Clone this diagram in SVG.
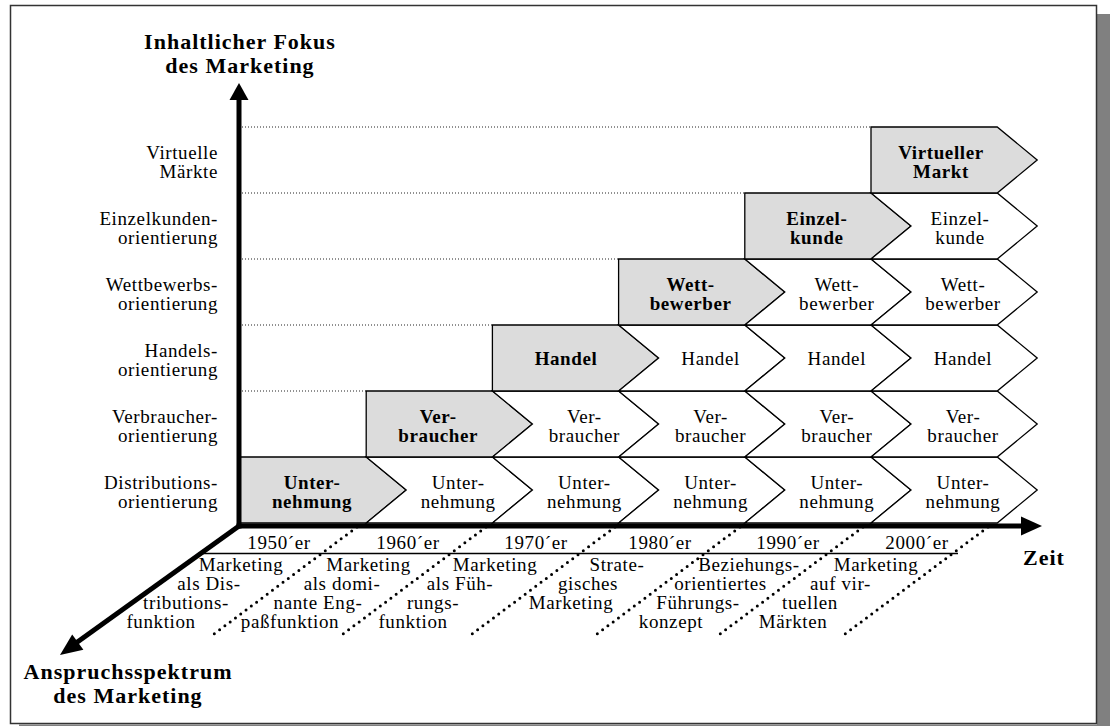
<svg xmlns="http://www.w3.org/2000/svg" xmlns:xlink="http://www.w3.org/1999/xlink" width="1110" height="726" viewBox="0 0 1110 726">
  <style>
    .t { font-family: "Liberation Serif", "Times New Roman", serif; font-size: 19px; letter-spacing: 0.6px; fill: #000; }
    .b { font-weight: bold; }
    .c { text-anchor: middle; }
    .e { text-anchor: end; }
    .h { font-family: "Liberation Serif", "Times New Roman", serif; font-size: 22px; font-weight: bold; letter-spacing: 1px; text-anchor: middle; fill: #000; }
    .grid { stroke: #222; stroke-width: 1; stroke-dasharray: 1 2; fill: none; }
    .dots { stroke: #000; stroke-width: 3; stroke-dasharray: 0 6.6; stroke-linecap: round; fill: none; }
    .axis { stroke: #000; stroke-width: 5; fill: none; }
    .ch { stroke: #000; stroke-width: 1.3; stroke-linejoin: miter; }
  </style>
  <defs>
    <!-- first (highlighted) arrow of a row: flat left side -->
    <path id="gch" class="ch" fill="#dcdcdc" d="M0,0 H126.2 L166.2,33 L126.2,66 H0 Z"/>
    <!-- following arrows: notched left side -->
    <path id="wch" class="ch" fill="#fff" d="M0,0 H126.2 L166.2,33 L126.2,66 H0 L40,33 Z"/>
  </defs>

  <!-- frame with drop shadow -->
  <rect x="1097" y="14" width="13" height="712" fill="#808080"/>
  <rect x="19" y="724.5" width="1091" height="2" fill="#808080"/>
  <rect x="10.5" y="5.5" width="1086" height="718" fill="#fff" stroke="#333" stroke-width="1.5"/>

  <!-- axis titles -->
  <text class="h" x="240" y="49">Inhaltlicher Fokus</text>
  <text class="h" x="240" y="73">des Marketing</text>
  <text class="h" x="128" y="679">Anspruchsspektrum</text>
  <text class="h" x="128" y="703">des Marketing</text>
  <text class="h" x="1044" y="565">Zeit</text>

  <!-- dotted row guides -->
  <g id="guides">
    <line class="grid" x1="242" y1="127" x2="871" y2="127"/>
    <line class="grid" x1="242" y1="193" x2="744.8" y2="193"/>
    <line class="grid" x1="242" y1="259" x2="618.6" y2="259"/>
    <line class="grid" x1="242" y1="325" x2="492.4" y2="325"/>
    <line class="grid" x1="242" y1="391" x2="366.2" y2="391"/>
  </g>

  <!-- row labels on the vertical axis -->
  <g id="row-labels" class="t e">
    <text x="218" y="489"><tspan x="218">Distributions-</tspan><tspan x="218" dy="19">orientierung</tspan></text>
    <text x="218" y="423"><tspan x="218">Verbraucher-</tspan><tspan x="218" dy="19">orientierung</tspan></text>
    <text x="218" y="357"><tspan x="218">Handels-</tspan><tspan x="218" dy="19">orientierung</tspan></text>
    <text x="218" y="291"><tspan x="218">Wettbewerbs-</tspan><tspan x="218" dy="19">orientierung</tspan></text>
    <text x="218" y="225"><tspan x="218">Einzelkunden-</tspan><tspan x="218" dy="19">orientierung</tspan></text>
    <text x="218" y="159"><tspan x="218">Virtuelle</tspan><tspan x="218" dy="19">Märkte</tspan></text>
  </g>

  <!-- row 0: Unternehmung -->
  <g id="r0c0"><use href="#gch" x="240" y="457"/><text class="t b c" x="312" y="488.5"><tspan x="312">Unter-</tspan><tspan x="312" dy="19">nehmung</tspan></text></g>
  <g id="r0c1"><use href="#wch" x="366.2" y="457"/><text class="t c" x="458.2" y="488.5"><tspan x="458.2">Unter-</tspan><tspan x="458.2" dy="19">nehmung</tspan></text></g>
  <g id="r0c2"><use href="#wch" x="492.4" y="457"/><text class="t c" x="584.4" y="488.5"><tspan x="584.4">Unter-</tspan><tspan x="584.4" dy="19">nehmung</tspan></text></g>
  <g id="r0c3"><use href="#wch" x="618.6" y="457"/><text class="t c" x="710.6" y="488.5"><tspan x="710.6">Unter-</tspan><tspan x="710.6" dy="19">nehmung</tspan></text></g>
  <g id="r0c4"><use href="#wch" x="744.8" y="457"/><text class="t c" x="836.8" y="488.5"><tspan x="836.8">Unter-</tspan><tspan x="836.8" dy="19">nehmung</tspan></text></g>
  <g id="r0c5"><use href="#wch" x="871" y="457"/><text class="t c" x="963" y="488.5"><tspan x="963">Unter-</tspan><tspan x="963" dy="19">nehmung</tspan></text></g>

  <!-- row 1: Verbraucher -->
  <g id="r1c1"><use href="#gch" x="366.2" y="391"/><text class="t b c" x="438.2" y="422.5"><tspan x="438.2">Ver-</tspan><tspan x="438.2" dy="19">braucher</tspan></text></g>
  <g id="r1c2"><use href="#wch" x="492.4" y="391"/><text class="t c" x="584.4" y="422.5"><tspan x="584.4">Ver-</tspan><tspan x="584.4" dy="19">braucher</tspan></text></g>
  <g id="r1c3"><use href="#wch" x="618.6" y="391"/><text class="t c" x="710.6" y="422.5"><tspan x="710.6">Ver-</tspan><tspan x="710.6" dy="19">braucher</tspan></text></g>
  <g id="r1c4"><use href="#wch" x="744.8" y="391"/><text class="t c" x="836.8" y="422.5"><tspan x="836.8">Ver-</tspan><tspan x="836.8" dy="19">braucher</tspan></text></g>
  <g id="r1c5"><use href="#wch" x="871" y="391"/><text class="t c" x="963" y="422.5"><tspan x="963">Ver-</tspan><tspan x="963" dy="19">braucher</tspan></text></g>

  <!-- row 2: Handel -->
  <g id="r2c2"><use href="#gch" x="492.4" y="325"/><text class="t b c" x="566" y="365">Handel</text></g>
  <g id="r2c3"><use href="#wch" x="618.6" y="325"/><text class="t c" x="710.6" y="365">Handel</text></g>
  <g id="r2c4"><use href="#wch" x="744.8" y="325"/><text class="t c" x="836.8" y="365">Handel</text></g>
  <g id="r2c5"><use href="#wch" x="871" y="325"/><text class="t c" x="963" y="365">Handel</text></g>

  <!-- row 3: Wettbewerber -->
  <g id="r3c3"><use href="#gch" x="618.6" y="259"/><text class="t b c" x="690.6" y="290.5"><tspan x="690.6">Wett-</tspan><tspan x="690.6" dy="19">bewerber</tspan></text></g>
  <g id="r3c4"><use href="#wch" x="744.8" y="259"/><text class="t c" x="836.8" y="290.5"><tspan x="836.8">Wett-</tspan><tspan x="836.8" dy="19">bewerber</tspan></text></g>
  <g id="r3c5"><use href="#wch" x="871" y="259"/><text class="t c" x="963" y="290.5"><tspan x="963">Wett-</tspan><tspan x="963" dy="19">bewerber</tspan></text></g>

  <!-- row 4: Einzelkunde -->
  <g id="r4c4"><use href="#gch" x="744.8" y="193"/><text class="t b c" x="816.8" y="224.5"><tspan x="816.8">Einzel-</tspan><tspan x="816.8" dy="19">kunde</tspan></text></g>
  <g id="r4c5"><use href="#wch" x="871" y="193"/><text class="t c" x="960" y="224.5"><tspan x="960">Einzel-</tspan><tspan x="960" dy="19">kunde</tspan></text></g>

  <!-- row 5: Virtueller Markt -->
  <g id="r5c5"><use href="#gch" x="871" y="127"/><text class="t b c" x="941" y="158.5"><tspan x="941">Virtueller</tspan><tspan x="941" dy="19">Markt</tspan></text></g>

  <!-- axes and period separators -->
  <g id="connectors">
    <line class="axis" x1="239" y1="98" x2="239" y2="528.5"/>
    <polygon points="239,83 229.5,100 248.5,100" fill="#000"/>
    <line class="axis" x1="236.5" y1="526" x2="1023" y2="526"/>
    <polygon points="1042,526 1021,516.5 1021,535.5" fill="#000"/>
    <line class="axis" x1="239" y1="526" x2="76" y2="643"/>
    <polygon points="60,655 72.2,634.4 83.4,649.8" fill="#000"/>
    <line x1="198" y1="553.5" x2="958" y2="553.5" stroke="#000" stroke-width="1.3"/>
    <line class="dots" x1="357" y1="527" x2="210" y2="637"/>
    <line class="dots" x1="486" y1="527" x2="339" y2="637"/>
    <line class="dots" x1="615" y1="527" x2="468" y2="637"/>
    <line class="dots" x1="740" y1="527" x2="593" y2="637"/>
    <line class="dots" x1="863" y1="527" x2="716" y2="637"/>
    <line class="dots" x1="988" y1="527" x2="841" y2="637"/>
  </g>

  <!-- decades -->
  <g id="decades" class="t c">
    <text x="279" y="549">1950´er</text>
    <text x="408" y="549">1960´er</text>
    <text x="536" y="549">1970´er</text>
    <text x="660" y="549">1980´er</text>
    <text x="788" y="549">1990´er</text>
    <text x="917" y="549">2000´er</text>
  </g>

  <!-- role of marketing per decade -->
  <g id="p1950" class="t c">
    <text x="241" y="571">Marketing</text>
    <text x="209" y="590">als Dis-</text>
    <text x="186" y="609">tributions-</text>
    <text x="161" y="628">funktion</text>
  </g>
  <g id="p1960" class="t c">
    <text x="368.5" y="571">Marketing</text>
    <text x="342" y="590">als domi-</text>
    <text x="318" y="609">nante Eng-</text>
    <text x="290" y="628">paßfunktion</text>
  </g>
  <g id="p1970" class="t c">
    <text x="495" y="571">Marketing</text>
    <text x="460" y="590">als Füh-</text>
    <text x="433" y="609">rungs-</text>
    <text x="413" y="628">funktion</text>
  </g>
  <g id="p1980" class="t c">
    <text x="617" y="571">Strate-</text>
    <text x="588" y="590">gisches</text>
    <text x="571" y="609">Marketing</text>
  </g>
  <g id="p1990" class="t c">
    <text x="749" y="571">Beziehungs-</text>
    <text x="720.5" y="590">orientiertes</text>
    <text x="698" y="609">Führungs-</text>
    <text x="671" y="628">konzept</text>
  </g>
  <g id="p2000" class="t c">
    <text x="876" y="571">Marketing</text>
    <text x="840.5" y="590">auf vir-</text>
    <text x="810" y="609">tuellen</text>
    <text x="793" y="628">Märkten</text>
  </g>
</svg>
